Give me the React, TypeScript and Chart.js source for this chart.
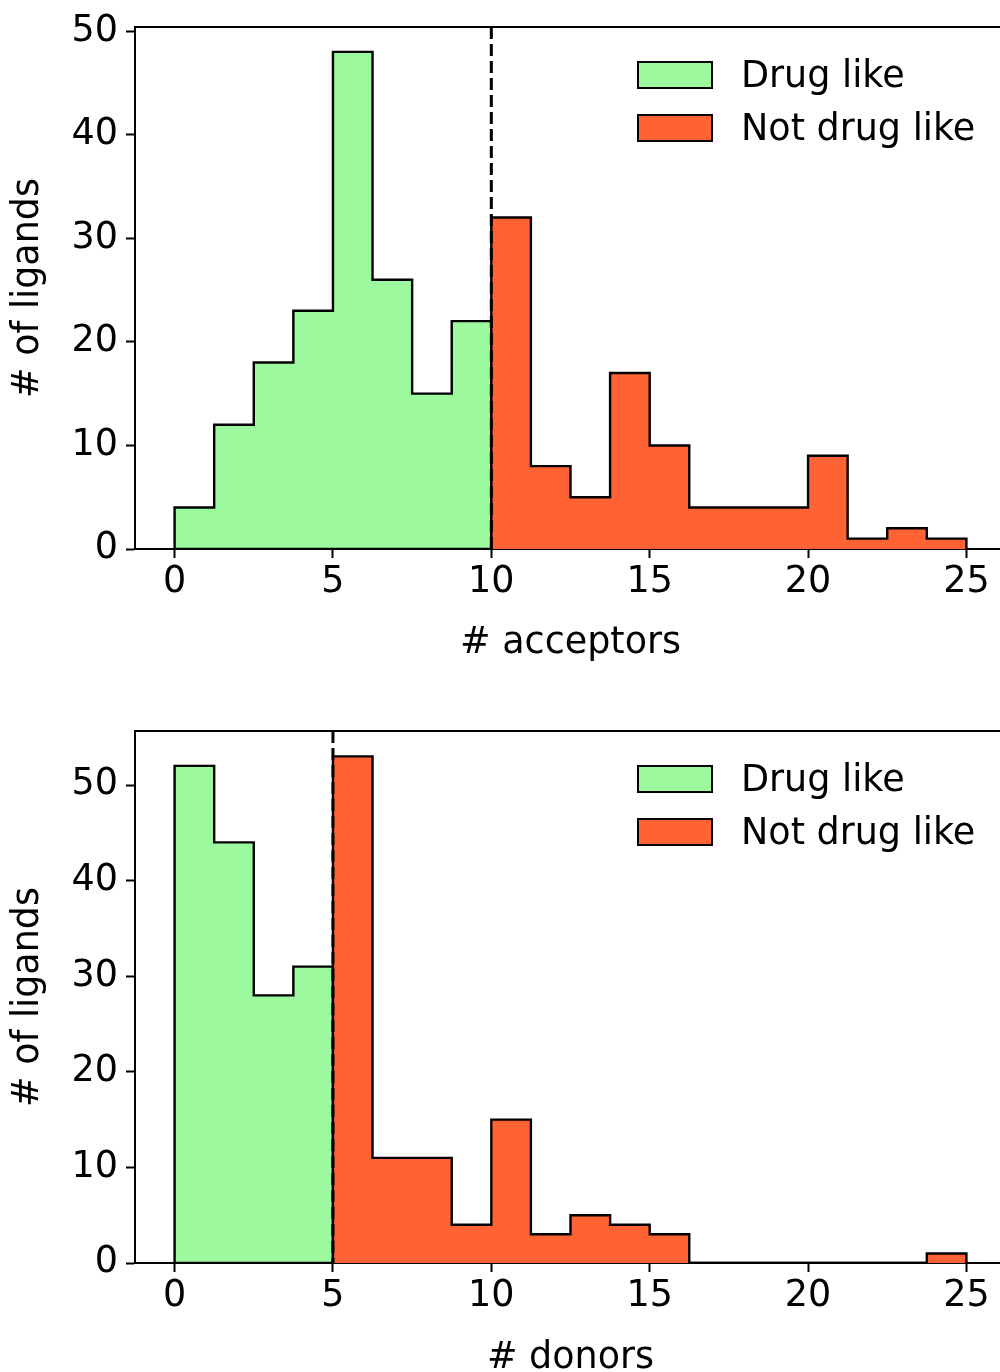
import React, { useEffect, useRef } from 'react';
import { Chart, registerables } from 'chart.js';

Chart.register(...registerables);

// ---------- data ----------
const BIN_EDGES = [0, 1.25, 2.5, 3.75, 5, 6.25, 7.5, 8.75, 10, 11.25, 12.5, 13.75, 15, 16.25, 17.5, 18.75, 20, 21.25, 22.5, 23.75, 25];
const ACCEPTORS_DRUG_LIKE = [4, 12, 18, 23, 48, 26, 15, 22, 0, 0, 0, 0, 0, 0, 0, 0, 0, 0, 0, 0];
const ACCEPTORS_NOT_DRUG_LIKE = [0, 0, 0, 0, 0, 0, 0, 0, 32, 8, 5, 17, 10, 4, 4, 4, 9, 1, 2, 1];
const DONORS_DRUG_LIKE = [52, 44, 28, 31, 0, 0, 0, 0, 0, 0, 0, 0, 0, 0, 0, 0, 0, 0, 0, 0];
const DONORS_NOT_DRUG_LIKE = [0, 0, 0, 0, 53, 11, 11, 4, 15, 3, 5, 4, 3, 0, 0, 0, 0, 0, 0, 1];
const X_TICKS = [0, 5, 10, 15, 20, 25];
const Y_TICKS = [0, 10, 20, 30, 40, 50];
const ACCEPTOR_CUTOFF = 10;
const DONOR_CUTOFF = 5;
const LEGEND_LABELS = ['Drug like', 'Not drug like'];
const X_MIN = -1.25;
const X_MAX = 26.25;
const ACCEPTORS_Y_MAX = 50.4;
const DONORS_Y_MAX = 55.65;

// ---------- style ----------
const GREEN = '#9cf99d';
const RED = '#ff6333';
const FONT = 'DejaVu Sans';
const FS = 36.5;
const CANVAS_W = 1020;
const CANVAS_H = 686;

function stepPoints(counts: number[]) {
  const pts: { x: number; y: number }[] = [{ x: BIN_EDGES[0], y: 0 }];
  counts.forEach((c, i) => pts.push({ x: BIN_EDGES[i], y: c }));
  pts.push({ x: BIN_EDGES[BIN_EDGES.length - 1], y: 0 });
  return pts;
}

type Props = {
  top: number;
  drug: number[];
  notDrug: number[];
  cutoff: number;
  yMax: number;
  xTitle: string;
  padTop: number;
  xAxisHeight: number;
  xTitlePad: number;
};

function Histogram(p: Props) {
  const ref = useRef<HTMLCanvasElement | null>(null);
  useEffect(() => {
    if (!ref.current) return;
    const extras = {
      id: 'extras',
      afterDatasetsDraw(chart: any) {
        const { ctx, chartArea, scales } = chart;
        ctx.save();
        // cutoff dashed line
        const x = scales.x.getPixelForValue(p.cutoff);
        ctx.strokeStyle = '#000';
        ctx.lineWidth = 3;
        ctx.setLineDash([12, 5]);
        ctx.beginPath();
        ctx.moveTo(x, chartArea.top);
        ctx.lineTo(x, chartArea.bottom);
        ctx.stroke();
        ctx.setLineDash([]);
        // top / right spines
        ctx.lineWidth = 2;
        ctx.beginPath();
        ctx.moveTo(chartArea.left, chartArea.top);
        ctx.lineTo(chartArea.right, chartArea.top);
        ctx.moveTo(chartArea.right, chartArea.top);
        ctx.lineTo(chartArea.right, chartArea.bottom);
        ctx.stroke();
        ctx.restore();
      },
      afterDraw(chart: any) {
        const { ctx, chartArea } = chart;
        ctx.save();
        const boxLeft = chartArea.right - 368;
        chart.data.datasets.forEach((ds: any, i: number) => {
          const y = chartArea.top + 35 + i * 53;
          ctx.fillStyle = ds.backgroundColor;
          ctx.fillRect(boxLeft, y, 74, 26);
          ctx.strokeStyle = '#000';
          ctx.lineWidth = 2;
          ctx.strokeRect(boxLeft, y, 74, 26);
          ctx.fillStyle = '#000';
          ctx.font = `${FS}px "${FONT}"`;
          ctx.textBaseline = 'middle';
          ctx.textAlign = 'left';
          ctx.fillText(ds.label, boxLeft + 103, y + 16);
        });
        ctx.restore();
      },
    };

    const tickFont = { family: FONT, size: FS, lineHeight: 1 };
    const chart = new Chart(ref.current, {
      type: 'line',
      data: {
        datasets: [
          {
            label: LEGEND_LABELS[0],
            data: stepPoints(p.drug),
            stepped: true,
            fill: 'origin',
            backgroundColor: GREEN,
            borderColor: '#000',
            borderWidth: 2.4,
            pointRadius: 0,
            order: 2,
          },
          {
            label: LEGEND_LABELS[1],
            data: stepPoints(p.notDrug),
            stepped: true,
            fill: 'origin',
            backgroundColor: RED,
            borderColor: '#000',
            borderWidth: 2.4,
            pointRadius: 0,
            order: 1,
          },
        ],
      },
      options: {
        responsive: false,
        animation: false,
        devicePixelRatio: 1,
        layout: { padding: { top: p.padTop, right: 14, left: 0, bottom: 0 } },
        plugins: { legend: { display: false }, tooltip: { enabled: false } },
        elements: { line: { borderJoinStyle: 'miter', tension: 0 } },
        scales: {
          x: {
            type: 'linear',
            min: X_MIN,
            max: X_MAX,
            afterBuildTicks: (s: any) => {
              s.ticks = X_TICKS.map((v) => ({ value: v }));
            },
            afterFit: (s: any) => {
              s.height = p.xAxisHeight;
            },
            ticks: { font: tickFont, color: '#000', padding: 6.5, maxRotation: 0, autoSkip: false },
            grid: { display: true, drawOnChartArea: false, drawTicks: true, tickLength: 9, tickWidth: 2, tickColor: '#000', color: '#000' },
            border: { display: true, color: '#000', width: 2 },
            title: { display: true, text: p.xTitle, color: '#000', font: tickFont, padding: { top: 0, bottom: p.xTitlePad } },
          },
          y: {
            type: 'linear',
            min: 0,
            max: p.yMax,
            afterBuildTicks: (s: any) => {
              s.ticks = Y_TICKS.map((v) => ({ value: v }));
            },
            afterFit: (s: any) => {
              s.width = 135;
            },
            ticks: { font: tickFont, color: '#000', padding: 8, autoSkip: false },
            grid: { display: true, drawOnChartArea: false, drawTicks: true, tickLength: 9, tickWidth: 2, tickColor: '#000', color: '#000' },
            border: { display: true, color: '#000', width: 2 },
            title: { display: true, text: '# of ligands', color: '#000', font: tickFont, padding: { top: 10, bottom: 0 } },
          },
        },
      } as any,
      plugins: [extras],
    });
    return () => chart.destroy();
  }, []);

  return (
    <canvas
      ref={ref}
      width={CANVAS_W}
      height={CANVAS_H}
      style={{ position: 'absolute', left: 0, top: p.top, width: CANVAS_W, height: CANVAS_H }}
    />
  );
}

export default function App() {
  return (
    <div style={{ position: 'absolute', left: 0, top: 0, width: 1000, height: 1372, overflow: 'hidden', background: '#fff' }}>
      <Histogram
        top={0}
        drug={ACCEPTORS_DRUG_LIKE}
        notDrug={ACCEPTORS_NOT_DRUG_LIKE}
        cutoff={ACCEPTOR_CUTOFF}
        yMax={ACCEPTORS_Y_MAX}
        xTitle="# acceptors"
        padTop={27}
        xAxisHeight={137}
        xTitlePad={23.75}
      />
      <Histogram
        top={686}
        drug={DONORS_DRUG_LIKE}
        notDrug={DONORS_NOT_DRUG_LIKE}
        cutoff={DONOR_CUTOFF}
        yMax={DONORS_Y_MAX}
        xTitle="# donors"
        padTop={45}
        xAxisHeight={109}
        xTitlePad={-5}
      />
    </div>
  );
}
